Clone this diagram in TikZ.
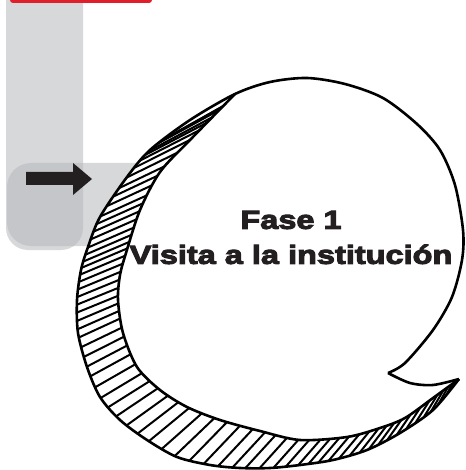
\documentclass[tikz,border=0pt]{standalone}
\usepackage{fontspec}
\newfontfamily\headfont{Liberation Sans}[FakeStretch=1.25, BoldFeatures={FakeBold=4}]
\definecolor{graylight}{HTML}{D7D8DA}
\definecolor{graydark}{HTML}{C5C6C9}
\definecolor{redbar}{HTML}{E01F2B}
\definecolor{inkc}{HTML}{231F20}
\tikzset{
  outline/.style={draw=black, line width=2.6pt, line join=round},
  hatchline/.style={draw=black, line width=2pt},
  headtext/.style={font={\headfont\bfseries\fontsize{26}{35}\selectfont}, text=inkc, align=center, inner sep=0pt}
}
\begin{document}
\begin{tikzpicture}[x=1pt,y=-1pt]
\useasboundingbox (0,0) rectangle (465,470);
\clip (0,0) rectangle (465,470);
% gray panels
\fill[graylight, rounded corners=22pt] (6,-40) rectangle (83,250);
\fill[graylight, rounded corners=24pt] (7,163) rectangle (175,246);
\begin{scope}
  \clip[rounded corners=22pt] (6,-40) rectangle (83,250);
  \fill[graydark, rounded corners=24pt] (7,163) rectangle (175,246);
\end{scope}
% red bar
\fill[redbar, rounded corners=3pt] (10,-10) rectangle (152,3);
% arrow
\fill[inkc] (26,172) -- (73,172) -- (73,163) -- (92,179) -- (73,195) -- (73,185) -- (26,185) -- cycle;
% outer shape (white)
\fill[white] plot[smooth] coordinates {(459,379) (433,410) (400,433) (367,450) (333,460) (300,465) (270,468) (240,468) (210,465) (177,457) (147,440) (120,420) (100,397) (87,367) (78,333) (77,300) (81,270) (88,247) (100,217) (127,177) (150,150) (190,120) (235,94) (270,82) (307,78) (345,84) (383,98) (417,124) (440,150) (455,185) (463,230) (462,260) (452,297) (433,330) (405,363) (388,373)}
 -- plot[smooth] coordinates {(388,373) (410,383) (433,385) (459,379)} -- cycle;
% hatching
\begin{scope}
  \clip plot[smooth] coordinates {(459,379) (433,410) (400,433) (367,450) (333,460) (300,465) (270,468) (240,468) (210,465) (177,457) (147,440) (120,420) (100,397) (87,367) (78,333) (77,300) (81,270) (88,247) (100,217) (127,177) (150,150) (190,120) (235,94) (270,82) (307,78) (345,84) (383,98) (417,124) (440,150) (455,185) (463,230) (462,260) (452,297) (433,330) (405,363) (388,373)}
 -- plot[smooth] coordinates {(388,373) (410,383) (433,385) (459,379)} -- cycle;
  \foreach \ph/\rr/\al in {30/212/61.4, 33/210.3/60.4, 36/208.7/59.5, 39/207/58.5, 42/204.8/57.6, 45/202.6/56.6, 48/200.5/55.7, 51/198.5/54.7, 54/197.2/53.8, 57/195.8/52.8, 60/194.5/51.9, 63/192.6/50.9, 66/190.5/50, 69/188.4/49.7, 72/186.5/49.5, 75/185/49.2, 78/183.5/48.9, 81.5/181.8/48.6, 85/180.5/48.3, 89/179/47.9, 93/177.4/47.5, 97/177.5/47.2, 101.5/178.1/46.8, 106/178.8/46.4, 110.5/180/45.8, 115/181.2/43.7, 119.5/182.5/41.6, 124/183.9/39.5, 128/185.1/37.6, 132/186.4/35.7, 136/187.4/33.9, 139.5/188.1/32.2, 143/188.8/31, 146.5/188.1/29.8, 150/186.8/28.7, 153/185.7/27.7, 156/184.5/26.7, 159/183.1/25.7, 162/181.7/24.7, 164.5/180.5/23.8, 167/179.4/23, 169.5/178.2/22.2, 172/177/22.1, 174.5/175.6/22.3, 177/174.3/22.5, 179.5/172.9/22.6, 182/171.5/22.8, 184.5/169.5/23, 187/166.8/23.1, 189.5/165.6/23.3, 192/165/23.5, 195/164.3/23.7, 198/163.5/23.9, 201/162.9/24.1, 204/162.5/24.4, 208/162/24.8, 212/161.6/25.2, 216/161.1/25.6, 221/161.5/26.1, 226/162.2/26.6, 231/162.8/27.1, 236/163.5/27.6, 241/164.7/28.1, 246/168/28.6, 251/171.3/29.1, 255/174/29.5} {
    \draw[hatchline] ({272+\rr*cos(\ph)-80*cos(\al)},{272+\rr*sin(\ph)+80*sin(\al)}) -- ({272+\rr*cos(\ph)+80*cos(\al)},{272+\rr*sin(\ph)-80*sin(\al)});
  }
\end{scope}
% bubble body (white)
\fill[white] plot[smooth] coordinates {(235,94) (270,82) (307,78) (345,84) (383,98) (417,124) (440,150) (455,185) (463,230) (462,260) (452,297) (433,330) (405,363) (388,373)}
 -- plot[smooth] coordinates {(388,373) (410,383) (433,385) (459,379)}
 -- plot[smooth] coordinates {(459,379) (433,398) (405,418) (380,428) (347,437) (300,440) (260,431) (220,420) (187,407) (160,390) (137,367) (123,333) (118,300) (120,275) (126,253) (140,210) (160,172) (190,140) (235,94)} -- cycle;
% outlines
\draw[outline] plot[smooth] coordinates {(459,379) (433,410) (400,433) (367,450) (333,460) (300,465) (270,468) (240,468) (210,465) (177,457) (147,440) (120,420) (100,397) (87,367) (78,333) (77,300) (81,270) (88,247) (100,217) (127,177) (150,150) (190,120) (235,94) (270,82) (307,78) (345,84) (383,98) (417,124) (440,150) (455,185) (463,230) (462,260) (452,297) (433,330) (405,363) (388,373)};
\draw[outline] plot[smooth] coordinates {(388,373) (410,383) (433,385) (459,379)};
\draw[outline] plot[smooth] coordinates {(459,379) (433,398) (405,418) (380,428) (347,437) (300,440) (260,431) (220,420) (187,407) (160,390) (137,367) (123,333) (118,300) (120,275) (126,253) (140,210) (160,172) (190,140) (235,94)};
% text
\node[headtext] (label) at (291,237.5) {Fase 1\\Visita a la institución};
\end{tikzpicture}
\end{document}
